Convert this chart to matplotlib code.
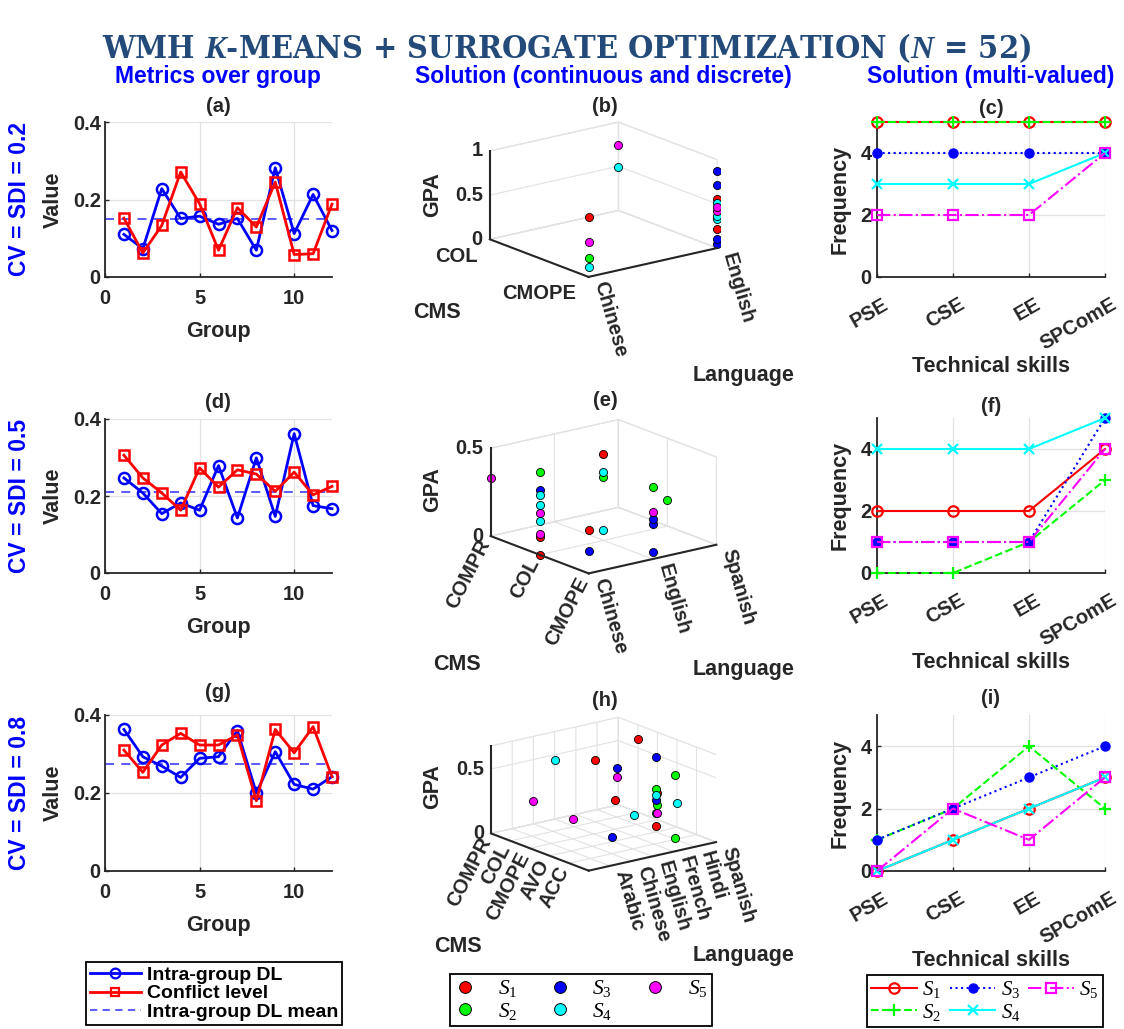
import numpy as np
import matplotlib
matplotlib.use('Agg')
import matplotlib.pyplot as plt
from matplotlib import font_manager as fm
from matplotlib.lines import Line2D
from matplotlib.transforms import ScaledTranslation
from mpl_toolkits.mplot3d import proj3d

W, H = 1124, 1029
DARK = '#262626'
GRID_C = '#e2e2e2'
TITLE_C = '#234a78'
BLUE_TXT = '#0000ff'

plt.rcParams.update({
    'font.family': ['Liberation Sans', 'DejaVu Sans'],
    'font.weight': 'bold',
    'axes.labelweight': 'bold',
    'axes.titleweight': 'bold',
    'font.size': 14.5,
    'grid.color': GRID_C,
    'grid.linewidth': 0.8,
    'mathtext.fontset': 'custom',
    'mathtext.rm': 'Liberation Serif:weight=normal',
    'mathtext.it': 'Liberation Serif:style=italic:weight=normal',
    'mathtext.bf': 'Liberation Serif:style=italic:weight=bold',
})

# ---------------- data ----------------
groups = np.arange(1, 13)
dl_a = [0.110, 0.073, 0.228, 0.151, 0.157, 0.136, 0.151, 0.069, 0.282, 0.112, 0.213, 0.120]
conf_a = [0.152, 0.062, 0.133, 0.271, 0.189, 0.069, 0.179, 0.129, 0.245, 0.058, 0.060, 0.188]
dl_d = [0.247, 0.208, 0.154, 0.182, 0.163, 0.279, 0.143, 0.299, 0.147, 0.362, 0.175, 0.167]
conf_d = [0.306, 0.247, 0.208, 0.163, 0.273, 0.223, 0.268, 0.257, 0.212, 0.262, 0.203, 0.225]
dl_g = [0.363, 0.293, 0.269, 0.240, 0.289, 0.293, 0.360, 0.200, 0.306, 0.222, 0.210, 0.242]
conf_g = [0.310, 0.253, 0.323, 0.353, 0.323, 0.323, 0.349, 0.180, 0.363, 0.303, 0.370, 0.242]

solutions = ['$S_1$', '$S_2$', '$S_3$', '$S_4$', '$S_5$']
sol_colors = ['#ff0000', '#00ff00', '#0000ff', '#00ffff', '#ff00ff']

# (b)
langs_b = ['Chinese', 'English']
cms_b = ['CMOPE', 'COL']
sol_b = [1, 5, 2, 4, 5, 4, 3, 3, 1, 4, 5, 5, 4, 4, 1, 3, 3]
lang_pts_b = ['Chinese'] * 4 + ['English'] * 13
cms_pts_b = ['CMOPE'] * 4 + ['COL'] * 2 + ['CMOPE'] * 11
gpa_b = [0.68, 0.39, 0.21, 0.11, 0.74, 0.49, 0.87, 0.71, 0.56, 0.51, 0.46, 0.42,
         0.36, 0.33, 0.22, 0.10, 0.05]

# (e)
langs_e = ['Chinese', 'English', 'Spanish']
cms_e = ['CMOPE', 'COL', 'COMPR']
sol_e = [5, 2, 3, 4, 4, 5, 4, 5, 1, 1, 1, 4, 2, 4, 1, 3, 2, 5, 3, 3, 3, 2]
lang_pts_e = ['Chinese'] * 10 + ['English'] * 4 + ['Chinese'] * 2 + ['English'] * 5 + ['Spanish']
cms_pts_e = ['COMPR'] + ['COL'] * 13 + ['CMOPE'] * 7 + ['COL']
gpa_e = [0.33, 0.47, 0.37, 0.34, 0.285, 0.235, 0.19, 0.12, 0.10, 0.0,
         0.49, 0.39, 0.36, 0.057, 0.245, 0.13, 0.41, 0.27, 0.23, 0.20, 0.04, 0.15]

# (h)
langs_h = ['Arabic', 'Chinese', 'English', 'French', 'Hindi', 'Spanish']
cms_h = ['ACC', 'AVO', 'CMOPE', 'COL', 'COMPR']
sol_h = [1, 4, 1, 3, 3, 5, 2, 5, 1, 2, 1, 4, 3, 2, 2, 5, 4, 4, 5, 1, 3, 2]
lang_pts_h = ['Spanish', 'English', 'French', 'Hindi', 'Hindi', 'Hindi', 'Hindi', 'Chinese',
              'French', 'Hindi', 'Spanish', 'Hindi', 'Hindi', 'Spanish', 'Hindi', 'Spanish',
              'Spanish', 'French', 'Chinese', 'Hindi', 'Chinese', 'Hindi']
cms_pts_h = ['COL', 'COMPR', 'COL', 'AVO', 'COL', 'COL', 'ACC', 'COMPR', 'CMOPE', 'AVO',
             'CMOPE', 'AVO', 'AVO', 'CMOPE', 'AVO', 'CMOPE', 'AVO', 'AVO', 'CMOPE', 'AVO',
             'ACC', 'ACC']
gpa_h = [0.57, 0.46, 0.48, 0.58, 0.38, 0.31, 0.50, 0.18, 0.23, 0.33, 0.21, 0.29, 0.245,
         0.115, 0.15, 0.05, 0.19, 0.17, 0.15, 0.05, 0.13, 0.01]

# technical skills frequencies, one row per solution S1..S5
skills = ['PSE', 'CSE', 'EE', 'SPComE']
freq_c = [[5, 5, 5, 5], [5, 5, 5, 5], [4, 4, 4, 4], [3, 3, 3, 4], [2, 2, 2, 4]]
freq_f = [[2, 2, 2, 4], [0, 0, 1, 3], [1, 1, 1, 5], [4, 4, 4, 5], [1, 1, 1, 4]]
freq_i = [[0, 1, 2, 3], [1, 2, 4, 2], [1, 2, 3, 4], [0, 1, 2, 3], [0, 2, 1, 3]]

sol_styles = [
    dict(ls='-', marker='o', ms=7.5, mfc='none', mew=1.6),
    dict(ls='--', marker='+', ms=9, mew=1.6),
    dict(ls=':', marker='o', ms=6.5, mew=1.0),
    dict(ls='-', marker='x', ms=6.5, mew=1.6),
    dict(ls='-.', marker='s', ms=6.5, mfc='none', mew=1.6),
]

fig = plt.figure(figsize=(W / 100, H / 100), dpi=100)


def px_rect(x0, y0, x1, y1):
    return [x0 / W, 1 - y1 / H, (x1 - x0) / W, (y1 - y0) / H]


def ftext(x, y, s, **kw):
    return fig.text(x / W, 1 - y / H, s, **kw)


def style_2d(ax):
    for side in ('top', 'right'):
        ax.spines[side].set_visible(False)
    for side in ('left', 'bottom'):
        ax.spines[side].set_color(DARK)
        ax.spines[side].set_linewidth(1.3)
    ax.grid(True, color=GRID_C, lw=0.9)
    ax.set_axisbelow(True)
    ax.tick_params(direction='in', length=3, width=1, colors=DARK, labelsize=14.5)


# ---------------- column 1: metrics over group ----------------
rows_px = [(122, 277), (419, 573), (715, 871)]
metric_data = [(dl_a, conf_a, '(a)', 'CV = SDI = 0.2'),
               (dl_d, conf_d, '(d)', 'CV = SDI = 0.5'),
               (dl_g, conf_g, '(g)', 'CV = SDI = 0.8')]
title_y1 = [107, 402, 693]
for (top, bot), (dl, conf, tag, rowlab), ty in zip(rows_px, metric_data, title_y1):
    ax = fig.add_axes(px_rect(105, top, 332, bot))
    ax.axhline(np.mean(dl), color='#4d4dff', lw=1.3, ls=(0, (5, 4)), zorder=2)
    ax.plot(groups, dl, color='#0000ff', lw=2, marker='o', ms=8, mfc='none', mew=1.8,
            clip_on=False, zorder=3)
    ax.plot(groups, conf, color='#ff0000', lw=2, marker='s', ms=6.5, mfc='none', mew=1.8,
            clip_on=False, zorder=4)
    ax.set_xlim(0, 12)
    ax.set_ylim(0, 0.4)
    ax.set_xticks([0, 5, 10])
    ax.set_yticks([0, 0.2, 0.4], ['0', '0.2', '0.4'])
    style_2d(ax)
    ax.tick_params(axis='x', pad=9)
    ax.tick_params(axis='y', pad=3)
    hpx = bot - top
    ax.set_xlabel('Group', fontsize=15.5, color=DARK)
    ax.xaxis.set_label_coords(0.5, -54 / hpx)
    ax.xaxis.label.set_va('center')
    ax.set_ylabel('Value', fontsize=15.5, color=DARK)
    ax.yaxis.set_label_coords((53 - 105) / 227, 0.5)
    ax.yaxis.label.set_va('center')
    ftext(218, ty, tag, ha='center', va='center', fontsize=14.5, color=DARK)
    ftext(20, (top + bot) / 2, rowlab, rotation=90, ha='center', va='center',
          fontsize=16.5, color=BLUE_TXT)

# ---------------- column 3: technical skills ----------------
freq_data = [(freq_c, '(c)'), (freq_f, '(f)'), (freq_i, '(i)')]
rows3_px = [(122, 277), (418, 573), (715, 871)]
title_y3 = [108, 407, 698]
for (top, bot), (freq, tag), ty in zip(rows3_px, freq_data, title_y3):
    ax = fig.add_axes(px_rect(877, top, 1105, bot))
    for vals, col, st in zip(freq, sol_colors, sol_styles):
        ax.plot(range(1, 5), vals, color=col, lw=1.5, clip_on=False, zorder=3,
                mec=col, **st)
    ax.set_xlim(1, 4)
    ax.set_ylim(0, 5)
    ax.set_yticks([0, 2, 4])
    ax.set_xticks(range(1, 5), skills)
    style_2d(ax)
    ax.tick_params(axis='y', pad=4)
    ax.tick_params(axis='x', pad=0)
    for lab in ax.get_xticklabels():
        lab.set_rotation(30)
        lab.set_rotation_mode('anchor')
        lab.set_ha('right')
        lab.set_va('center')
        lab.set_transform(lab.get_transform() + ScaledTranslation(0.10, -0.26, fig.dpi_scale_trans))
    hpx = bot - top
    ax.set_xlabel('Technical skills', fontsize=15.5, color=DARK)
    ax.xaxis.set_label_coords(0.5, -89 / hpx)
    ax.xaxis.label.set_va('center')
    ax.set_ylabel('Frequency', fontsize=15.5, color=DARK)
    ax.yaxis.set_label_coords((840 - 877) / 228, 0.5)
    ax.yaxis.label.set_va('center')
    ftext(991, ty, tag, ha='center', va='center', fontsize=14.5, color=DARK)

# ---------------- column 2: 3D solutions ----------------
panels3d = [
    dict(target=(490, 122, 717, 277), langs=langs_b, cms=cms_b, lo=1, zmax=1.0,
         zticks=[0, 0.5, 1], sol=sol_b, lp=lang_pts_b, cp=cms_pts_b, gpa=gpa_b,
         cms_rot=False, tag='(b)', ty=107, cms_xy=(437, 313), lang_y=375, gpa_y=195),
    dict(target=(490, 420, 717, 573), langs=langs_e, cms=cms_e, lo=1, zmax=0.5,
         zticks=[0, 0.5], sol=sol_e, lp=lang_pts_e, cp=cms_pts_e, gpa=gpa_e,
         cms_rot=True, tag='(e)', ty=400, cms_xy=(457, 665), lang_y=670, gpa_y=490),
    dict(target=(490, 718, 717, 870), langs=langs_h, cms=cms_h, lo=0, zmax=0.68,
         zticks=[0, 0.5], sol=sol_h, lp=lang_pts_h, cp=cms_pts_h, gpa=gpa_h,
         cms_rot=True, tag='(h)', ty=700, cms_xy=(458, 947), lang_y=955, gpa_y=787),
]

for p in panels3d:
    x0, y0, x1, y1 = p['target']
    cx, cy = (x0 + x1) / 2, (y0 + y1) / 2
    side = 330
    ax = fig.add_axes([(cx - side / 2) / W, (H - cy - side / 2) / H, side / W, side / H],
                      projection='3d')
    ax.set_proj_type('ortho')
    ax.view_init(elev=17, azim=-127.5)
    ax.set_box_aspect((1, 1, 0.57))
    ax.computed_zorder = False
    ax.set_facecolor((1, 1, 1, 0))
    nx, ny = len(p['langs']), len(p['cms'])
    lo = p['lo']
    xs = np.array([p['langs'].index(v) + 1 for v in p['lp']], float)
    ys = np.array([p['cms'].index(v) + 1 for v in p['cp']], float)
    zs = np.array(p['gpa'])
    sol = np.array(p['sol'])
    for k in range(5):
        m = sol == k + 1
        ax.scatter(xs[m], ys[m], zs[m], color=sol_colors[k], s=34, edgecolors='k',
                   linewidths=0.6, depthshade=False, zorder=3)
    ax.set_xlim(lo, nx)
    ax.set_ylim(lo, ny)
    ax.set_zlim(0, p['zmax'])
    ax.set_xticks(range(1, nx + 1), [''] * nx)
    ax.set_yticks(range(1, ny + 1), [''] * ny)
    ax.set_zticks(p['zticks'], [''] * len(p['zticks']))
    for axis in (ax.xaxis, ax.yaxis, ax.zaxis):
        axis.set_pane_color((1, 1, 1, 1))
        axis.pane.set_edgecolor(GRID_C)
        axis.pane.set_linewidth(0.9)
        axis.line.set_color((0, 0, 0, 0))
        axis.set_tick_params(color=(0, 0, 0, 0))
    zl = p['zmax']
    ax.plot([lo, nx], [lo, lo], [0, 0], color=DARK, lw=1.5, zorder=5)
    ax.plot([lo, lo], [lo, ny], [0, 0], color=DARK, lw=1.5, zorder=5)
    ax.plot([lo, lo], [ny, ny], [0, zl], color=DARK, lw=1.5, zorder=5)
    p['ax'] = ax


def to_px(ax, xs, ys, zs):
    px, py, _ = proj3d.proj_transform(np.asarray(xs, float), np.asarray(ys, float),
                                      np.asarray(zs, float), ax.M)
    return ax.transData.transform(np.column_stack([px, py]))


def box_corners(ax):
    (a0, a1), (b0, b1), (c0, c1) = ax.get_xlim(), ax.get_ylim(), ax.get_zlim()
    X, Y, Z = np.meshgrid([a0, a1], [b0, b1], [c0, c1])
    return X.ravel(), Y.ravel(), Z.ravel()


# scale/shift each 3D axes so its box lands on the reference footprint
fig.canvas.draw()
for p in panels3d:
    ax = p['ax']
    pts = to_px(ax, *box_corners(ax))
    (mx0, my0), (mx1, my1) = pts.min(0), pts.max(0)
    x0, y0, x1, y1 = p['target']
    tx0, tx1, ty0, ty1 = x0, x1, H - y1, H - y0
    k = 0.5 * ((tx1 - tx0) / (mx1 - mx0) + (ty1 - ty0) / (my1 - my0))
    pos = ax.get_position()
    side = pos.width * W
    ccx, ccy = pos.x0 * W + side / 2, pos.y0 * H + side / 2
    mcx, mcy = (mx0 + mx1) / 2, (my0 + my1) / 2
    ncx = (tx0 + tx1) / 2 - (mcx - ccx) * k
    ncy = (ty0 + ty1) / 2 - (mcy - ccy) * k
    ns = side * k
    ax.set_position([(ncx - ns / 2) / W, (ncy - ns / 2) / H, ns / W, ns / H])

fig.canvas.draw()
for p in panels3d:
    ax = p['ax']
    (a0, a1), (b0, b1), (c0, c1) = ax.get_xlim(), ax.get_ylim(), ax.get_zlim()
    nx, ny = len(p['langs']), len(p['cms'])
    xt = np.arange(1, nx + 1)
    for (px, py), name in zip(to_px(ax, xt, np.full(nx, b0), np.zeros(nx)), p['langs']):
        fig.text((px + 11) / W, (py - 5) / H, name, rotation=-74, rotation_mode='anchor',
                 ha='left', va='center', fontsize=14.5, color=DARK)
    yt = np.arange(1, ny + 1)
    for (px, py), name in zip(to_px(ax, np.full(ny, a0), yt, np.zeros(ny)), p['cms']):
        if p['cms_rot']:
            fig.text((px - 5) / W, (py - 5) / H, name, rotation=63, rotation_mode='anchor',
                     ha='right', va='center', fontsize=14.5, color=DARK)
        else:
            fig.text((px - 12) / W, (py - 17) / H, name, ha='right', va='center',
                     fontsize=14.5, color=DARK)
    zt = p['zticks']
    for (px, py), t in zip(to_px(ax, np.full(len(zt), a0), np.full(len(zt), b1), zt), zt):
        fig.text((px - 7) / W, py / H, f'{t:g}', ha='right', va='center',
                 fontsize=14.5, color=DARK)
    ftext(605, p['ty'], p['tag'], ha='center', va='center', fontsize=14.5, color=DARK)
    ftext(433, p['gpa_y'], 'GPA', rotation=90, ha='center', va='center', fontsize=15.5, color=DARK)
    ftext(*p['cms_xy'], 'CMS', ha='center', va='center', fontsize=15.5, color=DARK)
    ftext(693, p['lang_y'], 'Language', ha='left', va='center', fontsize=15.5, color=DARK)

# ---------------- headers and title ----------------
ftext(218, 83, 'Metrics over group', ha='center', va='baseline', fontsize=16.5, color=BLUE_TXT)
ftext(603, 83, 'Solution (continuous and discrete)', ha='center', va='baseline',
      fontsize=16.5, color=BLUE_TXT)
ftext(991, 83, 'Solution (multi-valued)', ha='center', va='baseline', fontsize=16.5,
      color=BLUE_TXT)

cond = [f for f in fm.fontManager.ttflist
        if 'Serif' in f.name and f.stretch == 'condensed' and f.style == 'normal'
        and f.weight in (700, 'bold')]
if cond:
    title_fp = fm.FontProperties(fname=cond[0].fname)
else:
    title_fp = fm.FontProperties(family='Liberation Serif', weight='bold')
title_fp.set_size(26)
ttl = ftext(567, 58, r'WMH $\mathbf{K}$-MEANS + SURROGATE OPTIMIZATION ($\mathbf{N}$ = 52)',
            ha='center', va='baseline', fontproperties=title_fp, color=TITLE_C)
fig.canvas.draw()
tw = ttl.get_window_extent().width
ttl.set_fontsize(ttl.get_fontsize() * 929 / tw)

# ---------------- legends ----------------
h1 = [Line2D([], [], color='#0000ff', lw=2, marker='o', ms=7, mfc='none', mew=1.6),
      Line2D([], [], color='#ff0000', lw=2, marker='s', ms=6, mfc='none', mew=1.6),
      Line2D([], [], color='#4d4dff', lw=1.3, ls=(0, (4, 3)))]
lg1 = fig.legend(h1, ['Intra-group DL', 'Conflict level', 'Intra-group DL mean'],
                 loc='center', bbox_to_anchor=(214 / W, 1 - 993.5 / H), fontsize=14,
                 handlelength=2.6, handletextpad=0.3, borderpad=0.2, labelspacing=0.05,
                 borderaxespad=0, fancybox=False, edgecolor='k', framealpha=1)
lg1.get_frame().set_linewidth(1.3)

h2 = [Line2D([], [], ls='none', marker='o', ms=8.5, mfc=c, mec='k', mew=0.7) for c in sol_colors]
lg2 = fig.legend(h2, solutions, ncol=3, loc='center', bbox_to_anchor=(581 / W, 1 - 1000 / H),
                 fontsize=15.5, handlelength=1.0, handletextpad=1.0, columnspacing=1.5,
                 borderpad=0.2, labelspacing=0.05, borderaxespad=0, fancybox=False,
                 edgecolor='k', framealpha=1)
lg2.get_frame().set_linewidth(1.3)

h3 = [Line2D([], [], color=c, lw=1.5, mec=c, **st) for c, st in zip(sol_colors, sol_styles)]
lg3 = fig.legend(h3, solutions, ncol=3, loc='center', bbox_to_anchor=(985 / W, 1 - 1001 / H),
                 fontsize=15, handlelength=2.2, handletextpad=0.25, columnspacing=0.4,
                 borderpad=0.2, labelspacing=0.05, borderaxespad=0, fancybox=False,
                 edgecolor='k', framealpha=1)
lg3.get_frame().set_linewidth(1.3)

fig.savefig('out.png', dpi=100)
